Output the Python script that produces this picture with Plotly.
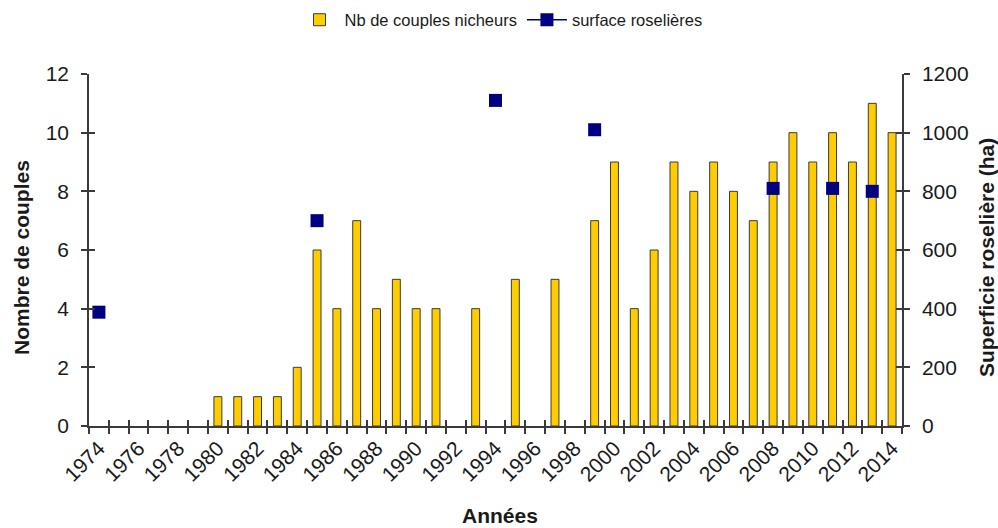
import plotly.graph_objects as go

years = list(range(1974, 2015))
couples = [None, None, None, None, None, None,
           1, 1, 1, 1, 2, 6, 4, 7, 4, 5, 4, 4, None, 4,
           None, 5, None, 5, None, 7, 9, 4, 6, 9, 8, 9, 8, 7, 9,
           10, 9, 10, 9, 11, 10]
surface = {1974: 388, 1985: 700, 1994: 1110, 1999: 1010, 2008: 810, 2011: 810, 2013: 800}
surface_vals = [surface.get(y) for y in years]
tick_years = years[::2]
tick_labels = [str(y) for y in tick_years]

FONT = "Liberation Sans, Arial, sans-serif"
AX = "#3a3a3a"
TXT = "#1a1a1a"

fig = go.Figure()
fig.add_trace(go.Bar(
    x=years, y=couples, name="Nb de couples nicheurs", width=0.4,
    marker=dict(color="#FFCC00", line=dict(color="#3a3a3a", width=1)),
    xaxis="x", yaxis="y"))
fig.add_trace(go.Scatter(
    x=years, y=surface_vals, name="surface roselières", mode="lines+markers",
    connectgaps=False,
    line=dict(color="#000080", width=1.5),
    marker=dict(symbol="square", size=13, color="#000080"),
    xaxis="x", yaxis="y2"))
# empty helper traces so the overlay axes (inside halves of crossing ticks) are drawn
fig.add_trace(go.Scatter(x=[], y=[], xaxis="x2", yaxis="y3", showlegend=False))
fig.add_trace(go.Scatter(x=[], y=[], xaxis="x2", yaxis="y4", showlegend=False))

W, H = 998, 528
L, R, T, B = 89, 902, 74, 426
PW, PH = R - L, B - T

xr = [1973.5, 2014.5]
fig.update_layout(
    width=W, height=H,
    margin=dict(l=L, r=W - R, t=T, b=H - B),
    paper_bgcolor="white", plot_bgcolor="white",
    font=dict(family=FONT, color=TXT, size=20),
    showlegend=True,
    legend=dict(orientation="h", xref="container", yref="container",
                x=501 / W, y=1 - 20 / H, xanchor="center", yanchor="middle",
                font=dict(size=16.5, color=TXT), itemwidth=40,
                traceorder="normal"),
    xaxis=dict(range=xr, tickmode="array", tickvals=tick_years, ticktext=tick_labels,
               tickangle=-45, ticks="outside", ticklen=0, tickcolor=AX,
               minor=dict(ticks="outside", ticklen=6, tick0=1973.5, dtick=1,
                          tickcolor=AX, tickwidth=1.5, showgrid=False),
               showline=True, linecolor=AX, linewidth=1.5, showgrid=False,
               zeroline=False, tickfont=dict(size=21), anchor="y"),
    xaxis2=dict(range=xr, overlaying="x", anchor="y", side="bottom",
                tickmode="linear", tick0=1973.5, dtick=1, ticks="inside", ticklen=6,
                tickcolor=AX, tickwidth=1.5, showticklabels=False,
                showline=False, showgrid=False, zeroline=False),
    yaxis=dict(range=[0, 12], tickmode="linear", tick0=0, dtick=2,
               ticks="outside", ticklen=6, tickwidth=1.5, tickcolor=AX,
               showline=True, linecolor=AX, linewidth=1.5, showgrid=False,
               zeroline=False, tickfont=dict(size=21), anchor="x", ticklabelstandoff=8),
    yaxis2=dict(range=[0, 1200], tickmode="linear", tick0=0, dtick=200,
                overlaying="y", side="right", anchor="x",
                ticks="outside", ticklen=6, tickwidth=1.5, tickcolor=AX,
                showline=True, linecolor=AX, linewidth=1.5, showgrid=False,
                zeroline=False, tickfont=dict(size=21), ticklabelstandoff=8),
    yaxis3=dict(range=[0, 12], tickmode="linear", tick0=0, dtick=2,
                overlaying="y", side="left", anchor="x2",
                ticks="inside", ticklen=6, tickwidth=1.5, tickcolor=AX,
                showticklabels=False, showline=False, showgrid=False, zeroline=False),
    yaxis4=dict(range=[0, 1200], tickmode="linear", tick0=0, dtick=200,
                overlaying="y", side="right", anchor="x2",
                ticks="inside", ticklen=6, tickwidth=1.5, tickcolor=AX,
                showticklabels=False, showline=False, showgrid=False, zeroline=False),
)

def px_x(p):
    return (p - L) / PW

def px_y(p):
    return (B - p) / PH

fig.add_annotation(text="<b>Années</b>", xref="paper", yref="paper",
                   x=px_x(500), y=px_y(515.5), showarrow=False,
                   xanchor="center", yanchor="middle", font=dict(size=21, color=TXT))
fig.add_annotation(text="<b>Nombre de couples</b>", xref="paper", yref="paper",
                   x=px_x(21), y=px_y(258), showarrow=False, textangle=-90,
                   xanchor="center", yanchor="middle", font=dict(size=21, color=TXT))
fig.add_annotation(text="<b>Superficie roselière (ha)</b>", xref="paper", yref="paper",
                   x=px_x(986), y=px_y(258), showarrow=False, textangle=-90,
                   xanchor="center", yanchor="middle", font=dict(size=21, color=TXT))

fig.write_html("out.html", config={"displayModeBar": False},
               post_script="document.body.style.margin='0';document.body.style.overflow='hidden';")
